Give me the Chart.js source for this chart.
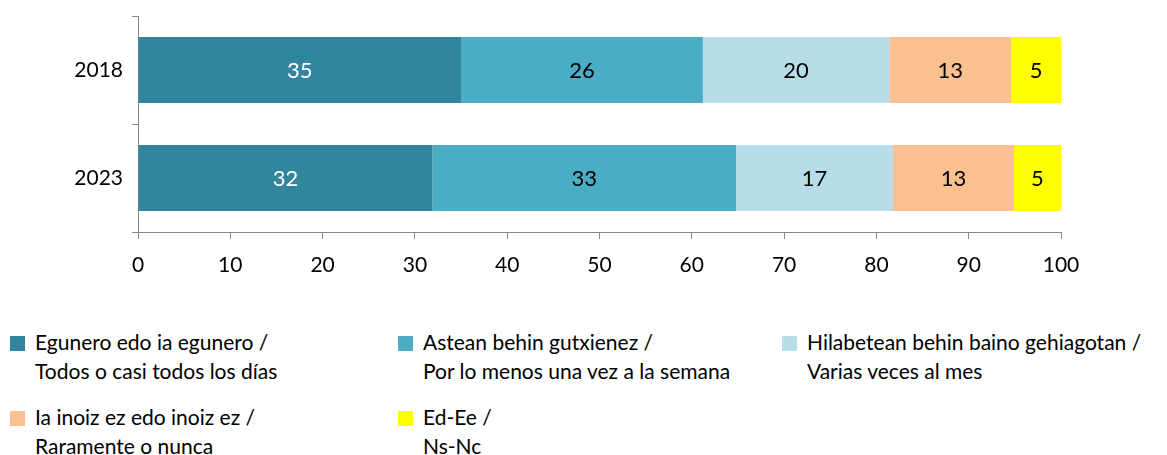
<!DOCTYPE html>
<html>
<head>
<meta charset="utf-8">
<script src="https://cdn.jsdelivr.net/npm/chart.js@4"></script>
<style>
  html, body { margin:0; padding:0; background:#fff; }
  body { width:1167px; height:455px; position:relative; overflow:hidden; font-family:Lato, "Open Sans", sans-serif; }
  #wrap { position:absolute; left:0; top:0; width:1167px; height:290px; }
  .lg { position:absolute; font-size:21px; line-height:29px; color:#000; }
  .lg .sw { position:absolute; left:0; top:9px; width:15px; height:15px; }
  .lg .tx { position:absolute; left:25px; top:0; white-space:nowrap; }
</style>
</head>
<body>
<div id="wrap"><canvas id="ch"></canvas></div>
<div id="legend"></div>
<script>
// categorias y series
const years = ['2018', '2023'];
const seriesNames = [
  ['Egunero edo ia egunero /', 'Todos o casi todos los días'],
  ['Astean behin gutxienez /', 'Por lo menos una vez a la semana'],
  ['Hilabetean behin baino gehiagotan /', 'Varias veces al mes'],
  ['Ia inoiz ez edo inoiz ez /', 'Raramente o nunca'],
  ['Ed-Ee /', 'Ns-Nc']
];
const daily   = [35.0, 31.9];
const weekly  = [26.2, 32.9];
const monthly = [20.2, 17.0];
const rarely  = [13.2, 13.1];
const dkna    = [5.4, 5.1];
const xTicks  = [0, 10, 20, 30, 40, 50, 60, 70, 80, 90, 100];

const colors = ['#31859C', '#4BACC6', '#B7DEE8', '#FAC090', '#FFFF00'];
const labelColors = ['#fff', '#000', '#000', '#000', '#000'];
const values = [daily, weekly, monthly, rarely, dkna];

const FONT = 'Lato, "Open Sans", sans-serif';

// etiquetas dentro de las barras
const barLabels = {
  id: 'barLabels',
  afterDatasetsDraw(chart) {
    const ctx = chart.ctx;
    ctx.save();
    ctx.font = '22px ' + FONT;
    ctx.textAlign = 'center';
    ctx.textBaseline = 'middle';
    chart.data.datasets.forEach((ds, i) => {
      chart.getDatasetMeta(i).data.forEach((bar, j) => {
        const cx = (bar.x + bar.base) / 2;
        ctx.fillStyle = labelColors[i];
        ctx.fillText(Math.round(ds.data[j]), cx, bar.y + 1);
      });
    });
    ctx.restore();
  }
};

const chart = new Chart(document.getElementById('ch'), {
  type: 'bar',
  data: {
    labels: years,
    datasets: values.map((v, i) => ({
      label: seriesNames[i].join(' '),
      data: v,
      backgroundColor: colors[i],
      borderWidth: 0,
      categoryPercentage: 1,
      barPercentage: 0.61
    }))
  },
  plugins: [barLabels],
  options: {
    indexAxis: 'y',
    responsive: true,
    maintainAspectRatio: false,
    animation: false,
    layout: { padding: { left: 0, right: 106, top: 16, bottom: 0 } },
    plugins: { legend: { display: false }, tooltip: { enabled: false } },
    scales: {
      x: {
        stacked: true,
        min: 0, max: 100,
        afterBuildTicks: s => { s.ticks = xTicks.map(v => ({ value: v })); },
        afterFit: s => { s.height = 58; },
        grid: { drawOnChartArea: false, color: '#888', tickLength: 7 },
        border: { color: '#888' },
        ticks: { color: '#000', font: { family: FONT, size: 21 }, padding: 14, maxRotation: 0 }
      },
      y: {
        stacked: true,
        afterFit: s => { s.width = 138; s.paddingTop = 0; s.paddingBottom = 0; },
        grid: { drawOnChartArea: false, color: '#888', tickLength: 6, offset: true },
        border: { color: '#888' },
        ticks: { color: '#000', font: { family: FONT, size: 21, lineHeight: 1 }, padding: 9 }
      }
    }
  }
});

// leyenda en html, a partir de los datasets
const pos = [[10, 327], [398, 327], [782, 327], [10, 402], [398, 402]];
let html = '';
chart.data.datasets.forEach((ds, i) => {
  html += `<div class="lg" style="left:${pos[i][0]}px;top:${pos[i][1]}px">
    <div class="sw" style="background:${ds.backgroundColor}"></div>
    <div class="tx">${seriesNames[i][0]}<br>${seriesNames[i][1]}</div>
  </div>`;
});
document.getElementById('legend').innerHTML = html;
</script>
</body>
</html>
